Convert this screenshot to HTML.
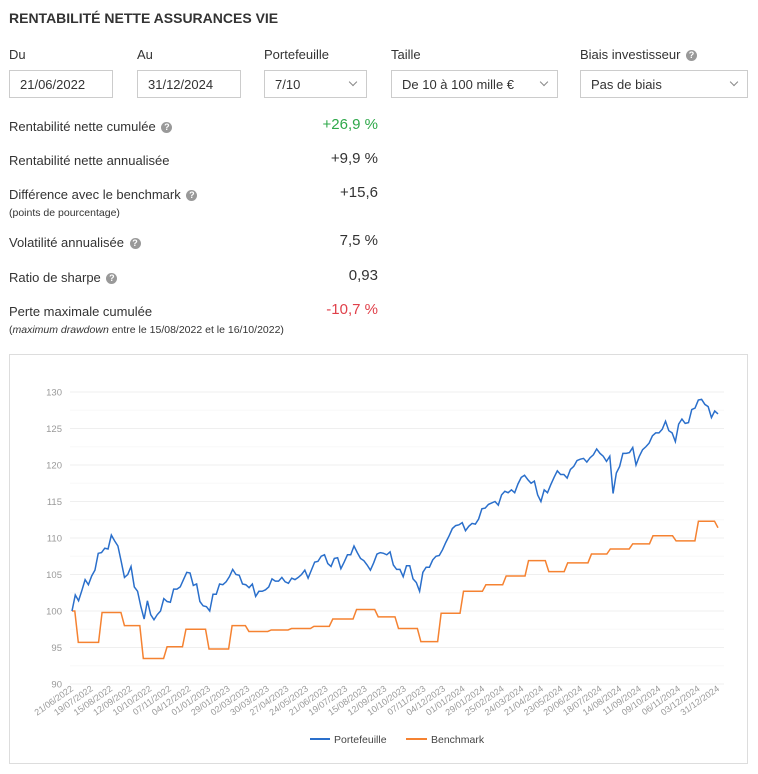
<!DOCTYPE html>
<html><head><meta charset="utf-8">
<style>
body{margin:0;background:#fff;font-family:"Liberation Sans",sans-serif;color:#333;width:758px;height:774px;overflow:hidden;position:relative}
.abs{position:absolute}
.title{left:9px;top:10px;font-size:14px;font-weight:bold;color:#333}
.lbl{font-size:13px;color:#333}
.box{border:1px solid #ccc;height:28px;box-sizing:border-box;font-size:13px;line-height:27px;padding-left:10px;color:#333;background:#fff}
.chev{position:absolute;right:10px;top:8px;width:5px;height:5px;border-right:1px solid #888;border-bottom:1px solid #888;transform:rotate(45deg)}
.ml{left:9px;font-size:13px;color:#333}
.mv{right:380px;font-size:15px;color:#333;text-align:right}
.q{display:inline-block;width:11px;height:11px;border-radius:50%;background:#999;color:#fff;font-size:9px;line-height:11px;text-align:center;font-weight:bold;vertical-align:1px;margin-left:2px}
.sub{left:9px;font-size:10.5px;color:#333}
</style></head><body>
<div class="abs title">RENTABILITÉ NETTE ASSURANCES VIE</div>

<div class="abs lbl" style="left:9px;top:47px">Du</div>
<div class="abs box" style="left:9px;top:70px;width:104px">21/06/2022</div>
<div class="abs lbl" style="left:137px;top:47px">Au</div>
<div class="abs box" style="left:137px;top:70px;width:104px">31/12/2024</div>
<div class="abs lbl" style="left:264px;top:47px">Portefeuille</div>
<div class="abs box" style="left:264px;top:70px;width:103px">7/10<span class="chev"></span></div>
<div class="abs lbl" style="left:391px;top:47px">Taille</div>
<div class="abs box" style="left:391px;top:70px;width:167px">De 10 à 100 mille €<span class="chev"></span></div>
<div class="abs lbl" style="left:580px;top:47px">Biais investisseur <span class="q">?</span></div>
<div class="abs box" style="left:580px;top:70px;width:168px">Pas de biais<span class="chev"></span></div>

<div class="abs ml" style="top:119px">Rentabilité nette cumulée <span class="q">?</span></div>
<div class="abs mv" style="top:116px;color:#2ea84a">+26,9 %</div>
<div class="abs ml" style="top:153px">Rentabilité nette annualisée</div>
<div class="abs mv" style="top:150px">+9,9 %</div>
<div class="abs ml" style="top:187px">Différence avec le benchmark <span class="q">?</span></div>
<div class="abs sub" style="top:207px">(points de pourcentage)</div>
<div class="abs mv" style="top:184px">+15,6</div>
<div class="abs ml" style="top:235px">Volatilité annualisée <span class="q">?</span></div>
<div class="abs mv" style="top:232px">7,5 %</div>
<div class="abs ml" style="top:270px">Ratio de sharpe <span class="q">?</span></div>
<div class="abs mv" style="top:267px">0,93</div>
<div class="abs ml" style="top:304px">Perte maximale cumulée</div>
<div class="abs sub" style="top:324px">(<i>maximum drawdown</i> entre le 15/08/2022 et le 16/10/2022)</div>
<div class="abs mv" style="top:301px;color:#e0404a">-10,7 %</div>

<div class="abs" style="left:9px;top:354px;width:739px;height:410px;border:1px solid #ddd;box-sizing:border-box"></div>
<svg class="abs" style="left:0;top:0" width="758" height="774" id="chart"></svg>

<script>
const yTicks=[90,95,100,105,110,115,120,125,130];
const xTickLabels=["21/06/2022","19/07/2022","15/08/2022","12/09/2022","10/10/2022","07/11/2022","04/12/2022","01/01/2023","29/01/2023","02/03/2023","30/03/2023","27/04/2023","24/05/2023","21/06/2023","19/07/2023","15/08/2023","12/09/2023","10/10/2023","07/11/2023","04/12/2023","01/01/2024","29/01/2024","25/02/2024","24/03/2024","21/04/2024","23/05/2024","20/06/2024","18/07/2024","14/08/2024","11/09/2024","09/10/2024","06/11/2024","03/12/2024","31/12/2024"];
const totalDays=924;
const portfolio=[100,102.2,101.4,102.8,104.3,103.6,104.8,105.6,107.9,108,108.6,108.5,110.4,109.6,108.9,106.8,104.6,105,106.1,103.3,102.7,100.6,98.9,101.4,99.5,98.8,99.5,100,101.7,101.3,101.2,103,103,103.3,104.3,105.3,105.2,103.5,103.7,101.3,100.7,100.6,100,102.3,102.3,103.7,103.6,104,104.7,105.7,105,104.9,103.7,103.6,103.2,103.7,102,102.7,102.7,102.9,103.3,104.4,104.1,104.1,104.6,104,103.8,104.5,104.3,104.6,105,105.6,104.5,105.6,106.7,106.8,107.5,107.7,106.5,106.1,107.2,107.3,105.8,106.7,107.7,107.7,108.9,108,107.2,106.9,106.3,105.6,106.6,107.8,108,107.9,107.7,108.1,106.3,105.7,105.7,104.7,106.2,106.2,104.4,103.9,102.7,105.3,106,106,107,107.5,107.6,108.4,109.4,110.3,111.3,111.7,111.8,112.1,111,111.6,112,111.9,112.6,114,114.1,114.6,114.8,115,114.5,115.9,116.4,116.2,116.6,116.2,117.4,118.3,118.6,118,117.5,117.8,115.9,115,116.6,116.2,117.3,118.3,119.2,118.7,118.7,118.2,119.4,119.8,120.6,120.8,120.9,120.4,121,121.4,122.2,121.6,121.2,120.5,121.2,116.1,118.9,119.8,121.6,121.6,121.7,122.4,120,121.2,122.1,122.5,123,124,124.4,124.4,124.9,126,124.7,124.4,123.2,125.6,126.3,125.7,125.8,127.6,127.8,128.9,129,128.3,128,126.5,127.4,127];
const benchDays=[0,9,43,75,102,136,163,196,229,253,285,314,346,373,407,438,467,499,528,560,592,621,653,682,709,743,770,802,831,864,896,924];
const benchVals=[100,95.7,99.8,98,93.5,95.1,97.5,94.8,98,97.2,97.4,97.6,97.9,98.9,100.2,99.2,97.6,95.8,99.7,102.7,103.6,104.8,106.9,105.4,106.6,107.8,108.5,109.2,110.3,109.6,112.3,111.4];

const svg=document.getElementById('chart');
const NS='http://www.w3.org/2000/svg';
const X0=72,X1=718,Y0=684,Y1=392,VMIN=90,VMAX=130;
const xd=d=>X0+(X1-X0)*d/totalDays;
const yv=v=>Y0-(Y0-Y1)*(v-VMIN)/(VMAX-VMIN);
function mk(t,a){const e=document.createElementNS(NS,t);for(const k in a)e.setAttribute(k,a[k]);svg.appendChild(e);return e;}
for(let v=VMIN;v<=VMAX;v+=2.5){
  const g=mk('line',{x1:X0-2,x2:X1+6,y1:yv(v),y2:yv(v),stroke:(v%5===0)?'#efefef':'#f8f8f8','stroke-width':1});
  
  
}
yTicks.forEach(v=>{
  const t=mk('text',{x:62,y:yv(v)+3.5,'text-anchor':'end','font-size':'9.5','fill':'#999','font-family':'Liberation Sans, sans-serif'});
  t.textContent=v;
  
  
});
xTickLabels.forEach((s,i)=>{
  const x=X0+(X1-X0)*i/(xTickLabels.length-1);
  const t=mk('text',{x:x+2,y:690,'text-anchor':'end','font-size':'9','fill':'#999','font-family':'Liberation Sans, sans-serif',transform:`rotate(-35 ${x+2} 690)`});
  t.textContent=s;
  
  
});
let bp=[];
benchDays.forEach((d,i)=>{
  if(i>0&&i<benchDays.length-1){bp.push([xd(Math.max(d-5,benchDays[i-1])),yv(benchVals[i-1])]);}
  if(i===benchDays.length-1){bp.push([xd(d-5),yv(benchVals[i-1])]);}
  bp.push([xd(d),yv(benchVals[i])]);
});
const bl=mk('polyline',{points:bp.map(p=>p.join(',')).join(' '),fill:'none',stroke:'#f58231','stroke-width':1.5});


const pp=portfolio.map((v,i)=>[xd(totalDays*i/(portfolio.length-1)),yv(v)]);
const pl=mk('polyline',{points:pp.map(p=>p.join(',')).join(' '),fill:'none',stroke:'#2a6fcb','stroke-width':1.5});


const l1=mk('line',{x1:310,x2:330,y1:739,y2:739,stroke:'#2a6fcb','stroke-width':2});


const t1=mk('text',{x:334,y:743,'font-size':'10.5','fill':'#444','font-family':'Liberation Sans, sans-serif'});
t1.textContent='Portefeuille';


const l2=mk('line',{x1:406,x2:427,y1:739,y2:739,stroke:'#f58231','stroke-width':2});


const t2=mk('text',{x:431,y:743,'font-size':'10.5','fill':'#444','font-family':'Liberation Sans, sans-serif'});
t2.textContent='Benchmark';


</script>
</body></html>
